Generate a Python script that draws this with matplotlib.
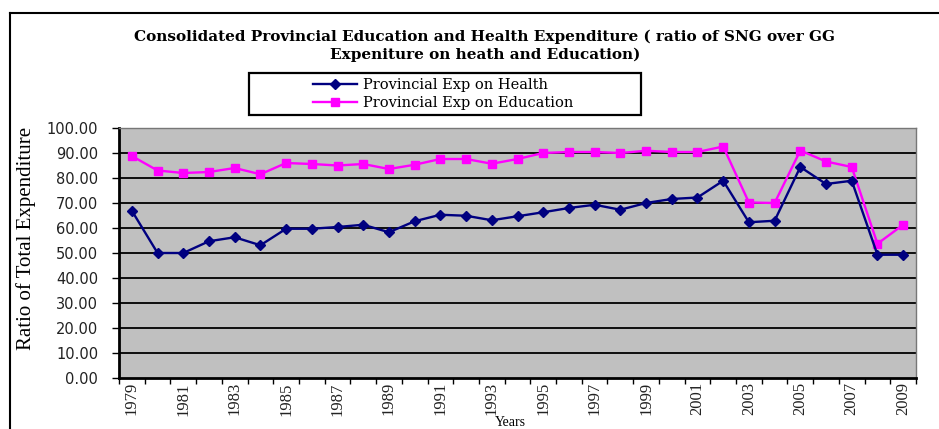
import matplotlib
matplotlib.use("Agg")
import matplotlib.pyplot as plt
from matplotlib.lines import Line2D
from matplotlib.patches import Rectangle
import numpy as np

years = list(range(1979, 2010))
health = [66.9, 50.0, 50.0, 54.7, 56.3, 53.1, 59.7, 59.7, 60.4, 61.3,
          58.3, 62.7, 65.3, 64.9, 63.1, 64.7, 66.3, 68.0, 69.3, 67.3,
          70.0, 71.6, 72.2, 78.9, 62.3, 62.9, 84.4, 77.6, 78.9, 49.3, 49.3]
education = [88.8, 83.0, 82.0, 82.4, 84.0, 81.5, 86.0, 85.6, 85.0, 85.6,
             83.6, 85.3, 87.6, 87.6, 85.7, 87.6, 90.0, 90.4, 90.4, 90.0,
             90.9, 90.4, 90.4, 92.6, 70.2, 70.0, 91.0, 86.6, 84.4, 53.7, 61.3]
yticks = [0, 10, 20, 30, 40, 50, 60, 70, 80, 90, 100]

W, H = 939, 429
fig = plt.figure(figsize=(W / 100, H / 100), dpi=100)
fig.patch.set_facecolor("white")

def fx(px):
    return px / W

def fy(py):
    return 1 - py / H

ax = fig.add_axes([fx(119), fy(378), (916 - 119) / W, (378 - 128) / H])
ax.set_facecolor("#c0c0c0")

x = np.arange(len(years))
ax.plot(x, health, color="#000080", marker="D", markersize=5.5, lw=1.7,
        label="Provincial Exp on Health", zorder=4)
ax.plot(x, education, color="#ff00ff", marker="s", markersize=6, lw=1.7,
        label="Provincial Exp on Education", zorder=3)

ax.set_xlim(-0.5, len(years) - 0.5)
ax.set_ylim(0, 100)
ax.set_yticks(yticks)
ax.set_yticklabels([f"{v:.2f}" for v in yticks], fontfamily="DejaVu Sans",
                   fontsize=10.5, color="#222222")
for v in yticks[1:-1]:
    ax.axhline(v, color="black", lw=1.3, zorder=1)

# major ticks at category boundaries, labels at centers via minor ticks
ax.set_xticks(np.arange(len(years) + 1) - 0.5)
ax.set_xticklabels([])
ax.set_xticks(x[::2], minor=True)
ax.set_xticklabels([str(y) for y in years[::2]], minor=True, rotation=90,
                   fontfamily="Liberation Serif", fontsize=12, color="#222222")
ax.tick_params(axis="x", which="major", length=4, width=1, direction="out")
ax.tick_params(axis="x", which="minor", length=0, pad=3)
ax.tick_params(axis="y", length=5, width=1, direction="out", pad=10)

for s in ["left", "bottom"]:
    ax.spines[s].set_linewidth(2)
    ax.spines[s].set_color("black")
for s in ["top", "right"]:
    ax.spines[s].set_linewidth(1)
    ax.spines[s].set_color("#777777")

fig.text(fx(26), fy(238), "Ratio of Total Expenditure", rotation=90,
         fontfamily="Liberation Serif", fontsize=15, ha="center", va="center")

fig.text(fx(510), fy(423), "Years", fontfamily="Liberation Serif",
         fontsize=10, ha="center", va="center")

fig.text(fx(485), fy(37),
         "Consolidated Provincial Education and Health Expenditure ( ratio of SNG over GG",
         fontfamily="DejaVu Serif", fontweight="bold", fontsize=11,
         ha="center", va="center")
fig.text(fx(485), fy(55), "Expeniture on heath and Education)",
         fontfamily="DejaVu Serif", fontweight="bold", fontsize=11,
         ha="center", va="center")

# legend (frame drawn separately to match the wide box)
fig.add_artist(Rectangle((fx(249), fy(115)), (641 - 249) / W, (115 - 73) / H,
                         facecolor="white", edgecolor="black", lw=1.6,
                         transform=fig.transFigure))
leg = fig.legend(loc="center left", bbox_to_anchor=(fx(313), fy(94)),
                 prop={"family": "DejaVu Serif", "size": 10.5},
                 frameon=False, handlelength=3.0, handletextpad=0.4,
                 borderpad=0, labelspacing=0.3, borderaxespad=0)

# outer chart frame (partially cropped)
fig.add_artist(Line2D([fx(10), fx(10)], [0, fy(13)], color="black",
                      lw=1.5, transform=fig.transFigure))
fig.add_artist(Line2D([fx(10), 1], [fy(13), fy(13)], color="black",
                      lw=1.5, transform=fig.transFigure))

fig.savefig("out.png", dpi=100)
